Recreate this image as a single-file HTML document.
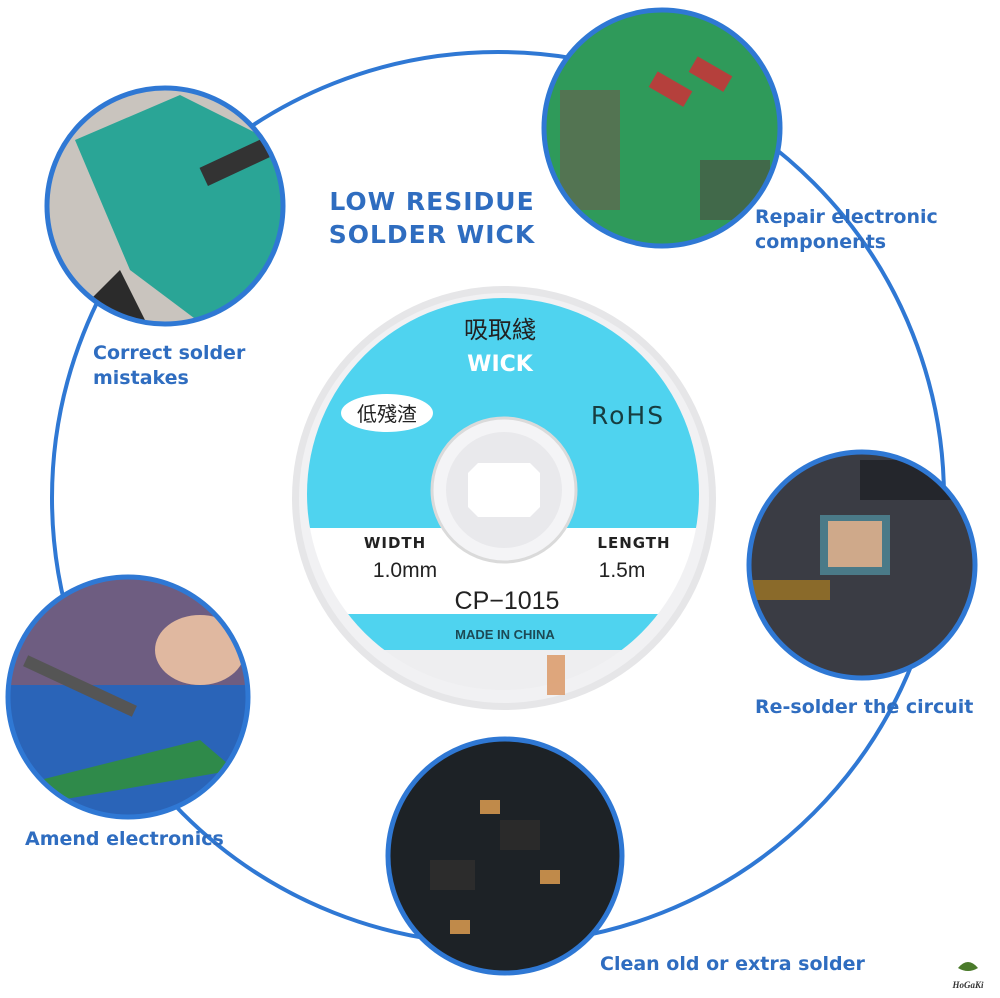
<!DOCTYPE html>
<html><head><meta charset="utf-8"><style>
html,body{margin:0;padding:0;background:#fff}
svg{display:block}
.lb{font-family:"DejaVu Sans","Liberation Sans",sans-serif;font-weight:bold;fill:#2f6dc0}
</style></head><body>
<svg width="1000" height="998" viewBox="0 0 1000 998" xmlns="http://www.w3.org/2000/svg">
<defs>
<clipPath id="c1"><circle cx="165" cy="206" r="118"/></clipPath>
<clipPath id="c2"><circle cx="662" cy="128" r="118"/></clipPath>
<clipPath id="c3"><circle cx="862" cy="565" r="113"/></clipPath>
<clipPath id="c4"><circle cx="505" cy="856" r="117"/></clipPath>
<clipPath id="c5"><circle cx="128" cy="697" r="120"/></clipPath>
<clipPath id="lab"><circle cx="503" cy="494" r="196"/></clipPath>
</defs>
<circle cx="498" cy="498" r="446" fill="none" stroke="#2f78d4" stroke-width="4"/>

<!-- spool -->
<circle cx="504" cy="498" r="212" fill="#e6e6e8"/>
<circle cx="504" cy="498" r="205" fill="#f1f1f3"/>
<g clip-path="url(#lab)">
<rect x="300" y="290" width="410" height="238" fill="#4fd3ef"/>
<rect x="300" y="528" width="410" height="86" fill="#fff"/>
<rect x="300" y="614" width="410" height="36" fill="#4fd3ef"/>
<rect x="300" y="650" width="410" height="50" fill="#eeeef0"/>
</g>
<rect x="547" y="655" width="18" height="40" fill="#d9935f" opacity="0.8"/>
<circle cx="504" cy="490" r="72" fill="#f4f4f6" stroke="#dadada" stroke-width="3"/>
<circle cx="504" cy="490" r="58" fill="#e9e9ec"/>
<path d="M478 463 h52 l10 10 v34 l-10 10 h-52 l-10 -10 v-34 z" fill="#fff"/>
<text x="500" y="338" text-anchor="middle" font-family="'Noto Sans CJK TC',sans-serif" font-size="24" fill="#222">吸取綫</text>
<text x="500" y="371" text-anchor="middle" font-family="'DejaVu Sans',sans-serif" font-weight="bold" font-size="22" fill="#fff">WICK</text>
<ellipse cx="387" cy="413" rx="46" ry="19" fill="#fff"/>
<text x="387" y="421" text-anchor="middle" font-family="'Noto Sans CJK TC',sans-serif" font-size="20" fill="#222">低殘渣</text>
<text x="628" y="424" text-anchor="middle" font-family="'DejaVu Sans',sans-serif" font-size="25" fill="#173d40" letter-spacing="2">RoHS</text>
<text x="395" y="548" text-anchor="middle" font-family="'DejaVu Sans',sans-serif" font-weight="bold" font-size="15" fill="#222" letter-spacing="1">WIDTH</text>
<text x="405" y="577" text-anchor="middle" font-family="'Liberation Sans',sans-serif" font-size="21" fill="#222">1.0mm</text>
<text x="634" y="548" text-anchor="middle" font-family="'DejaVu Sans',sans-serif" font-weight="bold" font-size="15" fill="#222" letter-spacing="1">LENGTH</text>
<text x="622" y="577" text-anchor="middle" font-family="'Liberation Sans',sans-serif" font-size="21" fill="#222">1.5m</text>
<text x="507" y="609" text-anchor="middle" font-family="'Liberation Sans',sans-serif" font-size="25" fill="#222">CP−1015</text>
<text x="505" y="639" text-anchor="middle" font-family="'Liberation Sans',sans-serif" font-weight="bold" font-size="13" fill="#1c4a55">MADE IN CHINA</text>

<!-- photo 1 -->
<g clip-path="url(#c1)"><rect x="40" y="80" width="260" height="260" fill="#c9c4be"/>
<polygon points="75,140 180,95 290,150 280,330 210,330 130,270" fill="#2aa596"/>
<polygon points="120,270 60,330 150,330" fill="#2b2b2b"/>
<rect x="200" y="150" width="80" height="20" fill="#333" transform="rotate(-25 240 160)"/></g>
<circle cx="165" cy="206" r="118" fill="none" stroke="#2f78d4" stroke-width="5"/>
<!-- photo 2 -->
<g clip-path="url(#c2)"><rect x="540" y="5" width="250" height="250" fill="#2f9a5a"/>
<rect x="560" y="90" width="60" height="120" fill="#6d5c4c" opacity="0.6"/>
<rect x="650" y="80" width="40" height="18" fill="#b5403c" transform="rotate(30 670 90)"/>
<rect x="690" y="65" width="40" height="18" fill="#b5403c" transform="rotate(30 710 75)"/>
<rect x="700" y="160" width="70" height="60" fill="#4f4a40" opacity="0.6"/></g>
<circle cx="662" cy="128" r="118" fill="none" stroke="#2f78d4" stroke-width="5"/>
<!-- photo 3 -->
<g clip-path="url(#c3)"><rect x="745" y="450" width="235" height="235" fill="#3a3c44"/>
<rect x="820" y="515" width="70" height="60" fill="#4a7a88"/>
<rect x="828" y="521" width="54" height="46" fill="#cfa98a"/>
<rect x="750" y="580" width="80" height="20" fill="#8a6a2a"/>
<rect x="860" y="460" width="110" height="40" fill="#24262c"/></g>
<circle cx="862" cy="565" r="113" fill="none" stroke="#2f78d4" stroke-width="5"/>
<!-- photo 4 -->
<g clip-path="url(#c4)"><rect x="385" y="735" width="240" height="240" fill="#1d2226"/>
<rect x="500" y="820" width="40" height="30" fill="#2a2a2a"/>
<rect x="430" y="860" width="45" height="30" fill="#2c2c2c"/>
<rect x="480" y="800" width="20" height="14" fill="#c08a4a"/>
<rect x="540" y="870" width="20" height="14" fill="#c08a4a"/>
<rect x="450" y="920" width="20" height="14" fill="#c08a4a"/></g>
<circle cx="505" cy="856" r="117" fill="none" stroke="#2f78d4" stroke-width="5"/>
<!-- photo 5 -->
<g clip-path="url(#c5)"><rect x="5" y="575" width="250" height="250" fill="#2a64b8"/>
<rect x="5" y="575" width="250" height="110" fill="#8b5a6a" opacity="0.7"/>
<ellipse cx="200" cy="650" rx="45" ry="35" fill="#e0b8a0"/>
<polygon points="40,780 200,740 235,770 60,800" fill="#2f8a4a"/>
<rect x="20" y="680" width="120" height="12" fill="#555" transform="rotate(25 80 686)"/></g>
<circle cx="128" cy="697" r="120" fill="none" stroke="#2f78d4" stroke-width="5"/>

<text class="lb" x="432" y="210" text-anchor="middle" font-size="25" letter-spacing="1">LOW RESIDUE</text>
<text class="lb" x="432" y="243" text-anchor="middle" font-size="25" letter-spacing="1">SOLDER WICK</text>
<text class="lb" x="93" y="359" font-size="19">Correct solder</text>
<text class="lb" x="93" y="384" font-size="19">mistakes</text>
<text class="lb" x="755" y="223" font-size="19">Repair electronic</text>
<text class="lb" x="755" y="248" font-size="19">components</text>
<text class="lb" x="755" y="713" font-size="19">Re-solder the circuit</text>
<text class="lb" x="25" y="845" font-size="19">Amend electronics</text>
<text class="lb" x="600" y="970" font-size="19">Clean old or extra solder</text>
<text x="968" y="988" text-anchor="middle" font-family="'Liberation Serif',serif" font-style="italic" font-weight="bold" font-size="9" fill="#333">HoGaKi</text>
<path d="M958 968 q10 -12 20 0 q-10 6 -20 0z" fill="#4a7a2a"/>
</svg>
</body></html>
